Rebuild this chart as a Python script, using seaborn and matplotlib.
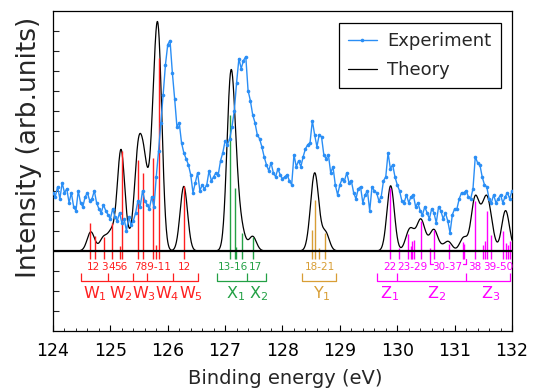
import numpy as np
import pandas as pd
import matplotlib
matplotlib.use("Agg")
import matplotlib.pyplot as plt
import seaborn as sns

# ---------------- data ----------------
# Experiment: binding energy grid (eV) and intensity (arb. units)
exp_energy = np.round(np.linspace(124.0, 132.0, 201), 3)
exp_intensity = [
    2.9, 2.7, 3.2, 2.6, 3.4,
    2.9, 3.1, 2.4, 2.9, 2.2,
    2.0, 3.0, 2.4, 2.2, 2.7,
    2.9, 2.5, 2.6, 3.0, 2.4,
    2.1, 1.9, 2.3, 2.0, 1.8,
    1.6, 2.1, 1.7, 1.5, 1.9,
    1.4, 1.6, 1.0, 1.7, 1.3,
    1.5, 1.9, 2.5, 2.2, 3.0,
    2.5, 2.3, 2.1, 2.7, 2.2,
    3.7, 5.0, 6.4, 7.8, 9.3,
    10.3, 10.5, 8.9, 7.6, 6.2,
    6.4, 5.4, 4.9, 4.6, 4.3,
    3.8, 2.9, 3.4, 3.9, 3.0,
    3.3, 3.1, 3.3, 4.0, 3.5,
    3.7, 3.9, 3.8, 4.5, 4.9,
    5.5, 5.3, 5.6, 6.2, 7.0,
    8.4, 9.6, 9.1, 9.5, 9.7,
    8.0, 7.5, 6.8, 6.4, 5.8,
    5.6, 5.2, 4.7, 4.3, 4.0,
    4.4, 3.9, 3.7, 4.1, 3.8,
    3.6, 3.7, 3.8, 3.5, 3.3,
    4.8, 4.2, 4.5, 4.2, 4.7,
    5.1, 5.3, 5.4, 6.5, 5.8,
    5.2, 5.8, 5.7, 4.8, 4.6,
    4.8, 3.9, 4.2, 3.3, 2.8,
    3.3, 3.6, 3.5, 3.9, 3.4,
    3.5, 2.9, 2.6, 3.1, 3.2,
    2.4, 2.8, 3.0, 2.0, 3.2,
    3.0, 2.9, 2.5, 2.7, 3.5,
    3.7, 4.9, 4.1, 4.3, 3.7,
    3.3, 3.0, 2.5, 2.4, 2.8,
    2.4, 2.7, 2.8, 2.2, 2.4,
    2.0, 1.8, 2.2, 1.9, 1.6,
    2.1, 1.9, 1.4, 2.2, 2.0,
    1.6, 1.9, 1.5, 0.9, 1.8,
    2.1, 2.1, 2.6, 2.9, 2.9,
    3.0, 2.7, 2.6, 3.1, 4.7,
    4.4, 4.3, 3.7, 3.3, 3.2,
    2.6, 2.4, 2.8, 2.4, 2.6,
    2.8, 2.4, 2.7, 2.9, 2.6,
    3.0,
]

# Theory: broadened line components (centre eV, peak height), gaussian sigma
theory_centers = [124.66, 124.88, 125.02, 125.185, 125.33, 125.48, 125.59, 125.75, 125.84, 126.28,
                  127.09, 127.175, 127.29, 127.48,
                  128.52, 128.575, 128.63, 128.75,
                  129.885, 130.20, 130.28, 130.41, 130.52, 130.64, 130.77, 130.89,
                  131.14, 131.18, 131.35, 131.45, 131.50, 131.56, 131.64, 131.88, 131.93]
theory_heights = [0.95, 0.65, 0.9, 5.0, 0.4, 4.5, 3.8, 4.6, 9.3, 3.22,
                  7.5, 3.1, 0.9, 0.72,
                  1.3, 2.8, 0.15, 0.9,
                  3.25, 0.8, 0.55, 1.45, 0.3, 1.0, 0.15, 0.45,
                  0.35, 0.35, 2.4, 0.9, 0.3, 2.0, 0.75, 1.7, 0.4]
theory_sigma = 0.065

# Stick spectra per group
W_pos = [124.645, 124.73, 124.89, 125.02, 125.168, 125.197, 125.49, 125.575, 125.75, 125.795, 125.84, 126.283]
W_h = [1.38, 0.75, 0.7, 1.38, 0.25, 5.0, 4.52, 3.88, 4.63, 0.3, 9.63, 3.25]
X_pos = [127.087, 127.172, 127.195, 127.29, 127.48]
X_h = [6.8, 3.13, 0.2, 0.88, 0.7]
Y_pos = [128.52, 128.573, 128.63, 128.746]
Y_h = [1.05, 2.55, 0.13, 0.88]
Z_pos = [129.875, 130.03, 130.19, 130.234, 130.262, 130.297, 130.41,
         130.57, 130.645, 130.905, 131.14, 131.17,
         131.355, 131.50, 131.53, 131.559, 131.634, 131.848, 131.89, 131.925, 131.965]
Z_h = [3.13, 0.13, 0.83, 0.22, 0.47, 0.52, 1.47,
       0.13, 1.05, 0.35, 0.42, 0.35,
       2.47, 0.3, 0.47, 1.97, 0.8, 1.0, 0.4, 0.3, 0.47]

# Labels
num_labels = ["12", "3", "4", "56", "789-11", "12", "13-16", "17", "18-21",
              "22", "23-29", "30-37", "38", "39-50"]
num_label_x = [124.70, 124.894, 125.023, 125.185, 125.73, 126.283, 127.14, 127.52, 128.648,
               129.874, 130.26, 130.875, 131.355, 131.756]
num_label_grp = ["W", "W", "W", "W", "W", "W", "X", "X", "Y", "Z", "Z", "Z", "Z", "Z"]

group_names = ["W$_1$", "W$_2$", "W$_3$", "W$_4$", "W$_5$", "X$_1$", "X$_2$", "Y$_1$",
               "Z$_1$", "Z$_2$", "Z$_3$"]
group_name_x = [124.73, 125.19, 125.585, 125.985, 126.405, 127.19, 127.59, 128.68,
                129.87, 130.69, 131.63]
group_name_grp = ["W", "W", "W", "W", "W", "X", "X", "Y", "Z", "Z", "Z"]

bracket_W = [124.483, 124.963, 125.399, 125.643, 126.086, 126.52]
bracket_X = [126.864, 127.387, 127.707]
bracket_Y = [128.334, 128.932]
bracket_Z = [129.65, 130.0, 131.2, 131.965]

colors = {"W": "#FF1F1F", "X": "#23A045", "Y": "#D89E35", "Z": "#FF00FF"}

xticks = [124, 125, 126, 127, 128, 129, 130, 131, 132]

# ---------------- style ----------------
sns.set_theme(style="white")
plt.rcParams["font.family"] = ["DejaVu Sans"]
plt.rcParams["mathtext.fontset"] = "dejavusans"

fig = plt.figure(figsize=(5.38, 3.92), dpi=100)
ax = fig.add_axes([53 / 538, 61 / 392, 459 / 538, 320.5 / 392])

# theory curve
grid = np.linspace(124.0, 132.0, 1601)
theory = np.zeros_like(grid)
for c, h in zip(theory_centers, theory_heights):
    theory += h * np.exp(-(grid - c) ** 2 / (2 * theory_sigma ** 2))
df_theory = pd.DataFrame({"E": grid, "I": theory})
df_exp = pd.DataFrame({"E": exp_energy, "I": exp_intensity})

sns.lineplot(data=df_exp, x="E", y="I", ax=ax, color="#2A8EF5", marker="o",
             markersize=2.6, markeredgewidth=0, linewidth=1.0, label="Experiment",
             zorder=4, sort=False)
sns.lineplot(data=df_theory, x="E", y="I", ax=ax, color="black", linewidth=0.9,
             label="Theory", zorder=2, sort=False)

# sticks
for pos, hh, g in [(W_pos, W_h, "W"), (X_pos, X_h, "X"), (Y_pos, Y_h, "Y"), (Z_pos, Z_h, "Z")]:
    ax.vlines(pos, -0.42, hh, colors=colors[g], linewidth=1.0, zorder=3)

# hooks for 30-37
ax.plot([130.57, 130.57, 130.62], [-0.42, -0.65, -0.65], color=colors["Z"], lw=0.9)
ax.plot([131.2, 131.2, 131.15], [-0.42, -0.65, -0.65], color=colors["Z"], lw=0.9)

ax.axhline(0, color="black", lw=1.6, zorder=5)

# number labels
for s, x, g in zip(num_labels, num_label_x, num_label_grp):
    ax.text(x, -0.97, s, color=colors[g], fontsize=7.5, ha="center", va="baseline")

# brackets
for br, g in [(bracket_W, "W"), (bracket_X, "X"), (bracket_Y, "Y"), (bracket_Z, "Z")]:
    ax.plot([br[0], br[-1]], [-1.48, -1.48], color=colors[g], lw=0.9)
    ax.vlines(br, -1.48, -1.12, colors=colors[g], lw=0.9)

# group names
for s, x, g in zip(group_names, group_name_x, group_name_grp):
    ax.text(x, -2.35, s, color=colors[g], fontsize=11.5, ha="center", va="baseline")

# axes
ax.set_xlim(124, 132)
ax.set_ylim(-4, 12)
ax.set_xticks(xticks)
ax.set_xticklabels([str(t) for t in xticks], fontsize=12.5)
ax.set_xticks(np.arange(124, 132.001, 0.2), minor=True)
ax.set_yticks(range(-3, 12))
ax.set_yticklabels([])
ax.tick_params(axis="x", which="major", direction="in", length=4.5, width=0.8,
               bottom=True, top=False, pad=8, colors="black")
ax.tick_params(axis="x", which="minor", direction="in", length=2.5, width=0.7,
               bottom=True, top=False)
ax.tick_params(axis="y", which="major", direction="in", length=4, width=0.8,
               left=True, right=False)
for sp in ax.spines.values():
    sp.set_color("black")
    sp.set_linewidth(0.9)

ax.set_xlabel("Binding energy (eV)", fontsize=14)
ax.xaxis.set_label_coords(0.505, -0.118)
ax.xaxis.label.set_va("top")
ax.set_ylabel("Intensity (arb.units)", fontsize=19)
ax.yaxis.set_label_coords(-0.024, 0.574)

leg = ax.legend(loc="upper right", bbox_to_anchor=(0.975, 0.96), borderaxespad=0,
                frameon=True, fancybox=False, edgecolor="black", framealpha=1,
                fontsize=13, numpoints=1, handlelength=1.6, borderpad=0.5,
                labelspacing=0.6, handletextpad=0.6)
leg.get_frame().set_linewidth(0.9)

fig.savefig("out.png", dpi=100)
